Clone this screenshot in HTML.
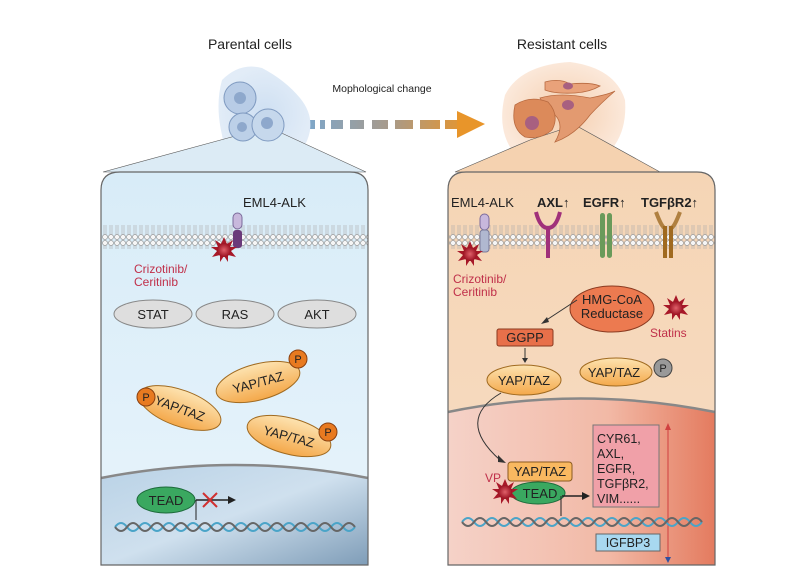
<!DOCTYPE html>
<html><head><meta charset="utf-8"><style>
body{margin:0;background:#fff;}
svg{display:block;font-family:"Liberation Sans",sans-serif;}
</style></head><body>
<svg width="800" height="581" viewBox="0 0 800 581" xmlns="http://www.w3.org/2000/svg">
<defs>
<linearGradient id="lb" x1="0" y1="0" x2="0" y2="1"><stop offset="0" stop-color="#d8ecf8"/><stop offset="1" stop-color="#e8f4fb"/></linearGradient>
<linearGradient id="ln" x1="0" y1="0" x2="1" y2="1"><stop offset="0" stop-color="#b9d2e6"/><stop offset="0.5" stop-color="#cfe0ee"/><stop offset="1" stop-color="#7f9db8"/></linearGradient>
<linearGradient id="rb" x1="0" y1="0" x2="0" y2="1"><stop offset="0" stop-color="#f5d5b5"/><stop offset="1" stop-color="#f7dcc3"/></linearGradient>
<linearGradient id="rn" x1="0" y1="0" x2="1" y2="0"><stop offset="0" stop-color="#f5d2c8"/><stop offset="0.6" stop-color="#f2b9a6"/><stop offset="1" stop-color="#e47b5f"/></linearGradient>
<linearGradient id="yap" x1="0" y1="0" x2="0" y2="1"><stop offset="0" stop-color="#fde3b0"/><stop offset="1" stop-color="#f4a84a"/></linearGradient>
<linearGradient id="arr" gradientUnits="userSpaceOnUse" x1="310" y1="0" x2="470" y2="0"><stop offset="0" stop-color="#7fa6c8"/><stop offset="0.5" stop-color="#a89a8a"/><stop offset="1" stop-color="#e8952a"/></linearGradient>
<radialGradient id="st"><stop offset="0" stop-color="#e0606a"/><stop offset="1" stop-color="#9a1020"/></radialGradient>
<radialGradient id="lblob"><stop offset="0" stop-color="#c6daf0"/><stop offset="1" stop-color="#dde9f6"/></radialGradient>
<radialGradient id="rblob"><stop offset="0" stop-color="#f3c8a4"/><stop offset="1" stop-color="#fbe6d6"/></radialGradient>
<pattern id="mem" width="6" height="24" patternUnits="userSpaceOnUse"><circle cx="3" cy="3" r="2.5" fill="#f6f6f6" stroke="#999" stroke-width="0.7"/><circle cx="3" cy="21" r="2.5" fill="#f6f6f6" stroke="#999" stroke-width="0.7"/><line x1="2" y1="5.5" x2="2" y2="18.5" stroke="#aaa" stroke-width="0.6"/><line x1="4" y1="5.5" x2="4" y2="18.5" stroke="#aaa" stroke-width="0.6"/></pattern>
<g id="star"><polygon points="0,-13 3,-6 9,-10 6,-3 13,-3 7,1 12,7 4,5 4,12 0,6 -4,12 -4,5 -12,7 -7,1 -13,-3 -6,-3 -9,-10 -3,-6" fill="#a81828"/><circle r="7" fill="url(#st)"/></g>
<g id="dna"><path d="M0,0 q6,-8 12,0 t12,0 t12,0 t12,0 t12,0 t12,0 t12,0 t12,0 t12,0 t12,0 t12,0 t12,0 t12,0 t12,0 t12,0 t12,0 t12,0 t12,0 t12,0 t12,0" fill="none" stroke="#4aa4c8" stroke-width="2"/><path d="M0,0 q6,8 12,0 t12,0 t12,0 t12,0 t12,0 t12,0 t12,0 t12,0 t12,0 t12,0 t12,0 t12,0 t12,0 t12,0 t12,0 t12,0 t12,0 t12,0 t12,0 t12,0" fill="none" stroke="#666" stroke-width="2"/></g>
</defs>
<!-- titles -->
<text x="250" y="49" font-size="14" text-anchor="middle" fill="#222">Parental cells</text>
<text x="562" y="49" font-size="14" text-anchor="middle" fill="#222">Resistant cells</text>
<text x="382" y="92" font-size="10.5" text-anchor="middle" fill="#222">Mophological change</text>
<!-- dashed arrow -->
<g fill="url(#arr)">
<rect x="310" y="120" width="5" height="9"/><rect x="320" y="120" width="5" height="9"/><rect x="331" y="120" width="12" height="9"/><rect x="350" y="120" width="14" height="9"/><rect x="372" y="120" width="16" height="9"/><rect x="395" y="120" width="18" height="9"/><rect x="420" y="120" width="20" height="9"/><rect x="445" y="120" width="12" height="9"/>
</g>
<polygon points="457,111 485,124 457,138" fill="#e8952a"/>
<!-- left cells -->
<path d="M222,80 Q240,62 262,68 Q285,80 300,98 Q318,120 305,145 Q290,160 255,160 Q225,158 222,135 Q215,105 222,80 Z" fill="url(#lblob)" opacity="0.85"/>
<path d="M103,172 L250,132 L275,130 L366,172 Z" fill="#dcebf5" stroke="#555" stroke-width="0.6"/>
<circle cx="240" cy="98" r="16" fill="#b8cce6" stroke="#7f9ac0"/><circle cx="240" cy="98" r="6" fill="#8ea8cc"/>
<circle cx="243" cy="127" r="14" fill="#bcd0e8" stroke="#7f9ac0"/><circle cx="242" cy="127" r="5" fill="#8ea8cc"/>
<circle cx="268" cy="125" r="16" fill="#c6d8ec" stroke="#7f9ac0"/><circle cx="267" cy="123" r="6" fill="#8ea8cc"/>
<!-- right cells -->
<path d="M505,95 Q520,65 570,62 Q615,68 625,100 Q628,140 600,160 Q560,172 520,160 Q495,135 505,95 Z" fill="url(#rblob)" opacity="0.9"/>
<path d="M455,172 L530,140 L575,125 L660,172 Z" fill="#f5d2b0" stroke="#555" stroke-width="0.6"/>
<path d="M545,82 Q560,78 570,84 Q590,82 600,86 Q590,92 575,93 Q555,94 545,90 Z" fill="#e9a27a" stroke="#b86a40" stroke-width="0.8"/>
<ellipse cx="568" cy="86" rx="5" ry="3.5" fill="#a86080"/>
<path d="M540,98 Q560,92 590,98 Q610,94 615,91 Q600,104 590,115 Q575,135 555,142 Q565,125 555,115 Q545,108 540,98 Z" fill="#e39a70" stroke="#b86a40" stroke-width="0.8"/>
<ellipse cx="568" cy="105" rx="6" ry="5" fill="#a86080"/>
<path d="M515,105 Q530,95 548,102 Q560,115 552,130 Q540,140 525,137 Q510,128 515,105 Z" fill="#dc8a5a" stroke="#b86a40" stroke-width="0.8"/>
<circle cx="532" cy="123" r="7" fill="#a86080"/>
<!-- LEFT PANEL -->
<path d="M101,190 Q101,172 120,172 L350,172 Q368,172 368,190 L368,565 L101,565 Z" fill="url(#lb)"/>
<rect x="102" y="225" width="266" height="24" fill="url(#mem)"/>
<path d="M101,478 Q235,452 368,478 L368,565 L101,565 Z" fill="url(#ln)"/>
<path d="M101,478 Q235,452 368,478" fill="none" stroke="#888" stroke-width="2.5"/>
<path d="M101,190 Q101,172 120,172 L350,172 Q368,172 368,190 L368,565 L101,565 Z" fill="none" stroke="#666" stroke-width="1.2"/>
<text x="243" y="207" font-size="13" fill="#222">EML4-ALK</text>
<rect x="233" y="213" width="9" height="16" rx="4.5" fill="#c8b8dc" stroke="#7a6a9a"/>
<rect x="233" y="230" width="9" height="18" rx="3" fill="#6a3a7a"/>
<use href="#star" x="224" y="250"/>
<text x="134" y="273" font-size="12" fill="#c0304a">Crizotinib/</text>
<text x="134" y="286" font-size="12" fill="#c0304a">Ceritinib</text>
<g font-size="13" text-anchor="middle" fill="#222">
<ellipse cx="153" cy="314" rx="39" ry="14" fill="#dedede" stroke="#888"/><text x="153" y="319">STAT</text>
<ellipse cx="235" cy="314" rx="39" ry="14" fill="#dedede" stroke="#888"/><text x="235" y="319">RAS</text>
<ellipse cx="317" cy="314" rx="39" ry="14" fill="#dedede" stroke="#888"/><text x="317" y="319">AKT</text>
<g transform="translate(258,382) rotate(-15)"><ellipse rx="43" ry="18" fill="url(#yap)" stroke="#a06a20"/><text y="5">YAP/TAZ</text></g>
<g transform="translate(180,408) rotate(20)"><ellipse rx="43" ry="18" fill="url(#yap)" stroke="#a06a20"/><text y="5">YAP/TAZ</text></g>
<g transform="translate(289,436) rotate(15)"><ellipse rx="43" ry="18" fill="url(#yap)" stroke="#a06a20"/><text y="5">YAP/TAZ</text></g>
<g font-size="11"><circle cx="298" cy="359" r="9" fill="#e87a20" stroke="#8a4010"/><text x="298" y="363">P</text>
<circle cx="146" cy="397" r="9" fill="#e87a20" stroke="#8a4010"/><text x="146" y="401">P</text>
<circle cx="328" cy="432" r="9" fill="#e87a20" stroke="#8a4010"/><text x="328" y="436">P</text></g>
<ellipse cx="166" cy="500" rx="29" ry="13" fill="#3aa860" stroke="#1c6a3a"/><text x="166" y="505">TEAD</text>
</g>
<line x1="196" y1="500" x2="196" y2="520" stroke="#222"/>
<line x1="196" y1="500" x2="228" y2="500" stroke="#222" stroke-width="1.5"/><polygon points="228,496 236,500 228,504" fill="#222"/>
<path d="M203,493 L217,507 M217,493 L203,507" stroke="#d03030" stroke-width="2"/>
<use href="#dna" x="115" y="527"/>
<!-- RIGHT PANEL -->
<path d="M448,190 Q448,172 466,172 L697,172 Q715,172 715,190 L715,565 L448,565 Z" fill="url(#rb)"/>
<rect x="449" y="225" width="266" height="24" fill="url(#mem)"/>
<path d="M448,412 Q580,385 715,412 L715,565 L448,565 Z" fill="url(#rn)"/>
<path d="M448,412 Q580,385 715,412" fill="none" stroke="#888" stroke-width="2.5"/>
<path d="M448,190 Q448,172 466,172 L697,172 Q715,172 715,190 L715,565 L448,565 Z" fill="none" stroke="#666" stroke-width="1.2"/>
<text x="451" y="207" font-size="13" fill="#222">EML4-ALK</text>
<g font-size="13" font-weight="bold" fill="#222"><text x="537" y="207">AXL↑</text><text x="583" y="207">EGFR↑</text><text x="641" y="207">TGFβR2↑</text></g>
<rect x="480" y="214" width="9" height="16" rx="4.5" fill="#c8b8dc" stroke="#7a6a9a"/>
<rect x="480" y="230" width="9" height="22" rx="3" fill="#b0b8d0" stroke="#7a7a9a"/>
<use href="#star" x="470" y="254"/>
<path d="M536,212 Q540,228 548,228 Q556,228 560,212" fill="none" stroke="#a0307a" stroke-width="4"/>
<rect x="546" y="226" width="4" height="32" fill="#a0307a"/>
<rect x="600" y="213" width="5" height="45" rx="2.5" fill="#6a9a5a"/><rect x="607" y="213" width="5" height="45" rx="2.5" fill="#6a9a5a"/>
<path d="M656,212 Q662,228 665,228 M680,212 Q674,228 671,228" fill="none" stroke="#b08040" stroke-width="4"/>
<rect x="663" y="226" width="4" height="32" fill="#a06a20"/><rect x="669" y="226" width="4" height="32" fill="#a06a20"/>
<text x="453" y="283" font-size="12" fill="#c0304a">Crizotinib/</text>
<text x="453" y="296" font-size="12" fill="#c0304a">Ceritinib</text>
<g font-size="13" text-anchor="middle" fill="#222">
<ellipse cx="612" cy="309" rx="42" ry="23" fill="#ec7a50" stroke="#8a3a20"/>
<text x="612" y="304">HMG-CoA</text><text x="612" y="318">Reductase</text>
</g>
<use href="#star" x="676" y="308"/>
<text x="650" y="337" font-size="12" fill="#c0304a">Statins</text>
<line x1="577" y1="300" x2="545" y2="321" stroke="#333"/><polygon points="541,324 547,317 549,322" fill="#333"/>
<rect x="497" y="329" width="56" height="17" rx="2" fill="#e8704a" stroke="#8a3a20"/>
<text x="525" y="342" font-size="13" text-anchor="middle" fill="#222">GGPP</text>
<line x1="525" y1="348" x2="525" y2="360" stroke="#333"/><polygon points="522,358 525,363 528,358" fill="#333"/>
<g font-size="13" text-anchor="middle" fill="#222">
<ellipse cx="524" cy="380" rx="37" ry="15" fill="url(#yap)" stroke="#a06a20"/><text x="524" y="385">YAP/TAZ</text>
<ellipse cx="616" cy="372" rx="36" ry="14" fill="url(#yap)" stroke="#a06a20"/><text x="614" y="377">YAP/TAZ</text>
<circle cx="663" cy="368" r="9" fill="#999" stroke="#444"/><text x="663" y="372" font-size="11">P</text>
</g>
<path d="M501,393 Q455,420 500,460" fill="none" stroke="#333"/><polygon points="498,455 506,463 498,462" fill="#333"/>
<rect x="508" y="462" width="64" height="19" rx="3" fill="#f9b860" stroke="#8a5a20"/>
<text x="540" y="476" font-size="13" text-anchor="middle" fill="#222">YAP/TAZ</text>
<ellipse cx="538" cy="493" rx="27" ry="11" fill="#3aa860" stroke="#1c6a3a"/>
<text x="540" y="498" font-size="13" text-anchor="middle" fill="#222">TEAD</text>
<use href="#star" x="505" y="492"/>
<text x="485" y="482" font-size="12" fill="#c0304a">VP</text>
<line x1="562" y1="496" x2="582" y2="496" stroke="#222" stroke-width="1.5"/><polygon points="582,492 590,496 582,500" fill="#222"/>
<line x1="561" y1="496" x2="561" y2="516" stroke="#222"/>
<rect x="593" y="425" width="66" height="82" fill="#f0a0a8" stroke="#777"/>
<g font-size="12.5" fill="#222"><text x="597" y="443">CYR61,</text><text x="597" y="458">AXL,</text><text x="597" y="473">EGFR,</text><text x="597" y="488">TGFβR2,</text><text x="597" y="503">VIM......</text></g>
<line x1="668" y1="428" x2="668" y2="560" stroke="#d04040"/><polygon points="665,430 668,423 671,430" fill="#d04040"/><polygon points="665,557 668,563 671,557" fill="#3050a0"/>
<use href="#dna" x="462" y="522"/>
<rect x="596" y="534" width="64" height="17" fill="#a8d8f0" stroke="#666"/>
<text x="628" y="547" font-size="12.5" text-anchor="middle" fill="#222">IGFBP3</text>
</svg>
</body></html>
